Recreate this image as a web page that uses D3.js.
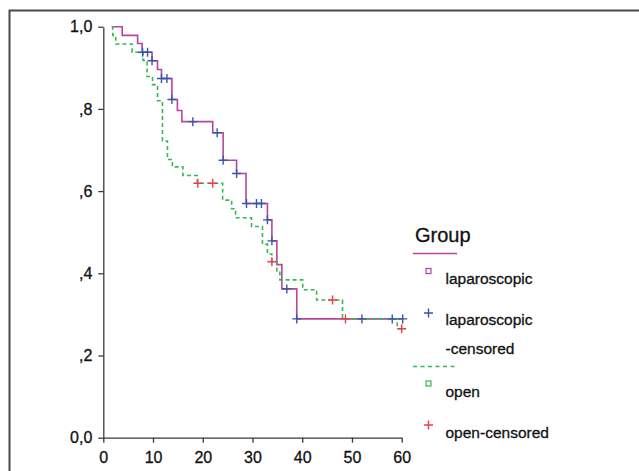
<!DOCTYPE html>
<html>
<head>
<meta charset="utf-8">
<script src="https://d3js.org/d3.v7.min.js"></script>
<style>
  body { margin: 0; background: #fff; }
  svg { display: block; font-family: "Liberation Sans", Arial, sans-serif; }
  text { stroke: #111; stroke-width: 0.3px; }
</style>
</head>
<body>
<div id="my_dataviz"></div>
<script>
// survival steps (time in months, cumulative survival)
var lapTimes = [1.7, 3.8, 6.9, 7.8, 9.8, 10.9, 11.7, 13.8, 14.9, 15.8, 22, 24.1, 26.8, 28.7, 33, 33.9, 34.9, 35.9, 38.9, 60.2]
var lapSurv = [1, .979, .959, .938, .917, .896, .874, .823, .796, .769, .742, .675, .643, .570, .530, .479, .421, .362, .289, .289]
var lapCensored = [7.9, 8.9, 9.8, 11.7, 12.8, 13.8, 18, 22.9, 24.1, 26.8, 28.8, 30.8, 31.8, 33, 33.9, 36.9, 38.9, 52, 58.1, 60.2]

var openTimes = [1.7, 1.9, 2.5, 5.8, 8.0, 8.8, 9.9, 10.9, 11.9, 12.9, 13.9, 16.0, 18.9, 24.0, 25.8, 26.6, 29.8, 32.0, 33.0, 33.9, 34.9, 35.5, 40.1, 42.9, 48.1, 59.1, 60]
var openSurv = [1, .979, .958, .938, .918, .879, .859, .820, .722, .677, .659, .638, .619, .578, .557, .535, .514, .471, .447, .428, .406, .384, .360, .335, .289, .265, .265]
var openCensored = [19, 22, 33.9, 46.1, 48.7, 60]

var xTicks = [0, 10, 20, 30, 40, 50, 60]
var yTicks = [0, 0.2, 0.4, 0.6, 0.8, 1.0]
var yTickLabels = ["0,0", ",2", ",4", ",6", ",8", "1,0"]

var legendTitle = "Group"
var legendLabels = ["laparoscopic", "laparoscopic", "-censored", "open", "open-censored"]

var magenta = "#b9449f", blue = "#3556b0", green = "#35b955", red = "#ec3d4b"

var W = 639, H = 471

var svg = d3.select("#my_dataviz")
  .append("svg")
  .attr("width", W)
  .attr("height", H)

// outer frame (runs off the right and bottom of the image)
svg.append("rect")
  .attr("x", 9.5).attr("y", 10.5)
  .attr("width", 700).attr("height", 600)
  .attr("fill", "none")
  .attr("stroke", "#4a4a4a")
  .attr("stroke-width", 2)

var x = d3.scaleLinear().domain([0, 60]).range([103.3, 401.7])
var y = d3.scaleLinear().domain([0, 1]).range([437.7, 26.7])

// axes
var yAxis = svg.append("g")
  .attr("transform", "translate(" + x(0) + ",0)")
  .call(d3.axisLeft(y).tickValues(yTicks)
    .tickFormat(function (d, i) { return yTickLabels[i] })
    .tickSize(5).tickSizeOuter(0).tickPadding(6))

var xAxis = svg.append("g")
  .attr("transform", "translate(0," + y(0) + ")")
  .call(d3.axisBottom(x).tickValues(xTicks)
    .tickFormat(d3.format("d"))
    .tickSize(5).tickSizeOuter(0).tickPadding(9))

svg.selectAll(".domain, .tick line")
  .attr("stroke", "#3a3a3a")
  .attr("stroke-width", 1.3)
svg.selectAll(".tick text")
  .attr("font-family", "Liberation Sans, Arial, sans-serif")
  .attr("font-size", 16)
  .attr("fill", "#111")

// step curves
var line = d3.line()
  .x(function (d) { return x(d[0]) })
  .y(function (d) { return y(d[1]) })
  .curve(d3.curveStepAfter)

function pairs(times, surv) {
  return times.map(function (t, i) { return [t, surv[i]] })
}

function survAt(times, surv, t) {
  var s = surv[0]
  for (var i = 0; i < times.length; i++) {
    if (times[i] <= t + 1e-9) s = surv[i]
  }
  return s
}

svg.append("path")
  .datum(pairs(lapTimes, lapSurv))
  .attr("d", line)
  .attr("fill", "none")
  .attr("stroke", magenta)
  .attr("stroke-width", 1.6)

svg.append("path")
  .datum(pairs(openTimes, openSurv))
  .attr("d", line)
  .attr("fill", "none")
  .attr("stroke", green)
  .attr("stroke-width", 1.6)
  .attr("stroke-dasharray", "4,3")

// censor crosses
function cross(g, cx, cy, color) {
  g.append("path")
    .attr("d", "M" + (cx - 4.5) + "," + cy + "H" + (cx + 4.5) + "M" + cx + "," + (cy - 4.5) + "V" + (cy + 4.5))
    .attr("stroke", color)
    .attr("stroke-width", 1.4)
    .attr("fill", "none")
}

var marks = svg.append("g")
lapCensored.forEach(function (t) {
  cross(marks, x(t), y(survAt(lapTimes, lapSurv, t)), blue)
})
openCensored.forEach(function (t) {
  cross(marks, x(t), y(survAt(openTimes, openSurv, t)), red)
})

// legend
var lg = svg.append("g")
lg.append("text")
  .attr("x", 415).attr("y", 241.5)
  .attr("font-size", 20)
  .attr("fill", "#111")
  .text(legendTitle)

lg.append("line")
  .attr("x1", 413).attr("x2", 457).attr("y1", 253.5).attr("y2", 253.5)
  .attr("stroke", magenta).attr("stroke-width", 1.4)
lg.append("rect")
  .attr("x", 426).attr("y", 268.5).attr("width", 5).attr("height", 5)
  .attr("fill", "none").attr("stroke", magenta).attr("stroke-width", 1.2)
cross(lg, 428.5, 313, blue)

lg.append("line")
  .attr("x1", 413).attr("x2", 457).attr("y1", 366.5).attr("y2", 366.5)
  .attr("stroke", green).attr("stroke-width", 1.4)
  .attr("stroke-dasharray", "4,3.5")
lg.append("rect")
  .attr("x", 426).attr("y", 381).attr("width", 5).attr("height", 5)
  .attr("fill", "none").attr("stroke", green).attr("stroke-width", 1.2)
cross(lg, 428.5, 425, red)

var labelY = [284, 325, 353.5, 396.5, 437.5]
lg.selectAll("text.lab")
  .data(legendLabels)
  .enter().append("text")
  .attr("class", "lab")
  .attr("x", 445.5)
  .attr("y", function (d, i) { return labelY[i] })
  .attr("font-size", 15.5)
  .attr("fill", "#111")
  .text(function (d) { return d })
</script>
</body>
</html>
